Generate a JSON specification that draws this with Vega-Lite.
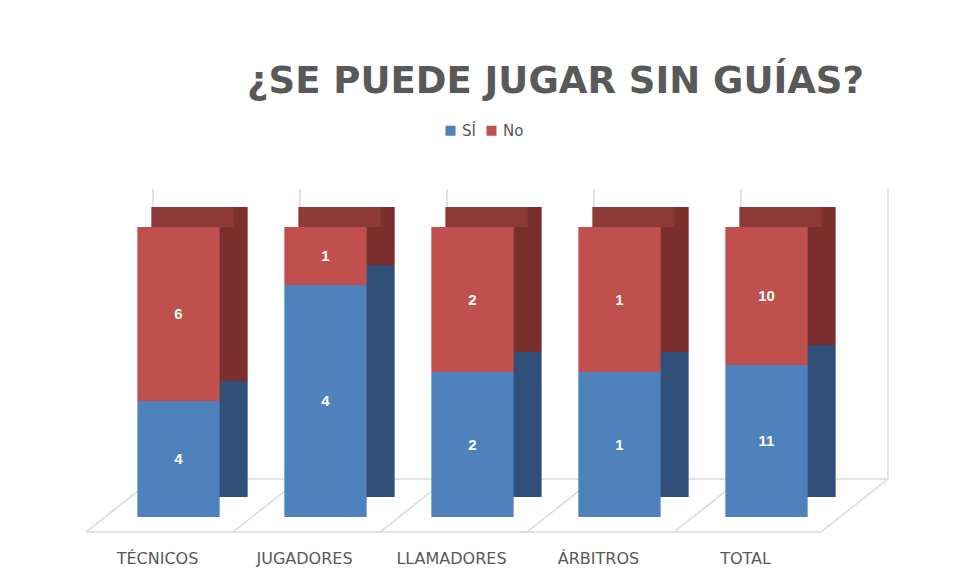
{
  "$schema": "https://vega.github.io/schema/vega-lite/v6.json",
  "autosize": {"type": "none"},
  "width": 735,
  "height": 290,
  "padding": {"left": 105, "top": 227, "right": 114, "bottom": 66},
  "background": "white",
  "config": {"view": {"stroke": null}, "font": "DejaVu Sans"},
  "title": {
    "text": "¿SE PUEDE JUGAR SIN GUÍAS?",
    "font": "DejaVu Sans",
    "fontSize": 37,
    "fontWeight": "bold",
    "color": "#595959",
    "anchor": "middle",
    "dx": 83,
    "offset": 22
  },
  "datasets": {
    "votos": [
      {"categoria": "TÉCNICOS", "serie": "SÍ", "valor": 4},
      {"categoria": "TÉCNICOS", "serie": "No", "valor": 6},
      {"categoria": "JUGADORES", "serie": "SÍ", "valor": 4},
      {"categoria": "JUGADORES", "serie": "No", "valor": 1},
      {"categoria": "LLAMADORES", "serie": "SÍ", "valor": 2},
      {"categoria": "LLAMADORES", "serie": "No", "valor": 2},
      {"categoria": "ÁRBITROS", "serie": "SÍ", "valor": 1},
      {"categoria": "ÁRBITROS", "serie": "No", "valor": 1},
      {"categoria": "TOTAL", "serie": "SÍ", "valor": 11},
      {"categoria": "TOTAL", "serie": "No", "valor": 10}
    ],
    "limites": [{"b": 0}, {"b": 1}, {"b": 2}, {"b": 3}, {"b": 4}, {"b": 5}]
  },
  "resolve": {"scale": {"x": "independent"}, "axis": {"x": "independent"}},
  "layer": [
    {
      "data": {"name": "limites"},
      "mark": {"type": "rule", "color": "#d9d9d9", "strokeWidth": 1.5, "xOffset": 48, "x2Offset": 48, "yOffset": -38, "y2Offset": -38},
      "encoding": {
        "x": {"field": "b", "type": "quantitative", "scale": {"domain": [0, 5], "nice": false, "zero": false}, "axis": null},
        "y": {"datum": 0, "type": "quantitative", "scale": {"domain": [0, 1]}, "axis": null},
        "y2": {"datum": 1}
      }
    },
    {
      "data": {"name": "limites"},
      "mark": {"type": "rule", "color": "#d9d9d9", "strokeWidth": 1.5, "xOffset": -19, "yOffset": 15, "x2Offset": 48, "y2Offset": -38},
      "encoding": {
        "x": {"field": "b", "type": "quantitative", "scale": {"domain": [0, 5], "nice": false, "zero": false}, "axis": null},
        "x2": {"field": "b"},
        "y": {"datum": 0, "type": "quantitative", "scale": {"domain": [0, 1]}, "axis": null},
        "y2": {"datum": 0}
      }
    },
    {
      "data": {"values": [{"borde": "atrás"}]},
      "mark": {"type": "rule", "color": "#d9d9d9", "strokeWidth": 1.5, "xOffset": 48, "x2Offset": 48, "yOffset": -38, "y2Offset": -38},
      "encoding": {
        "x": {"datum": 0, "type": "quantitative", "scale": {"domain": [0, 5], "nice": false, "zero": false}, "axis": null},
        "x2": {"datum": 5},
        "y": {"datum": 0, "type": "quantitative", "scale": {"domain": [0, 1]}, "axis": null}
      }
    },
    {
      "data": {"values": [{"borde": "frente"}]},
      "mark": {"type": "rule", "color": "#d9d9d9", "strokeWidth": 1.5, "xOffset": -19, "x2Offset": -19, "yOffset": 15, "y2Offset": 15},
      "encoding": {
        "x": {"datum": 0, "type": "quantitative", "scale": {"domain": [0, 5], "nice": false, "zero": false}, "axis": null},
        "x2": {"datum": 5},
        "y": {"datum": 0, "type": "quantitative", "scale": {"domain": [0, 1]}, "axis": null}
      }
    },
    {
      "data": {"name": "votos"},
      "mark": {"type": "bar", "xOffset": 28, "x2Offset": 28, "yOffset": -20, "y2Offset": -20},
      "encoding": {
        "x": {"field": "categoria", "type": "nominal", "sort": null, "scale": {"paddingInner": 0.44, "paddingOuter": 0.22}, "axis": null},
        "y": {"field": "valor", "type": "quantitative", "stack": "normalize", "scale": {"domain": [0, 1]}, "axis": null},
        "color": {"condition": {"test": "datum.serie === 'SÍ'", "value": "#30507a"}, "value": "#7a2f2d"},
        "order": {"field": "serie", "sort": "descending"}
      }
    },
    {
      "data": {"name": "votos"},
      "transform": [{"filter": "datum.serie === 'No'"}],
      "mark": {"type": "bar", "color": "#8c3937", "xOffset": 14, "x2Offset": 14, "yOffset": -20},
      "encoding": {
        "x": {"field": "categoria", "type": "nominal", "sort": null, "scale": {"paddingInner": 0.44, "paddingOuter": 0.22}, "axis": null},
        "y": {"datum": 1, "type": "quantitative", "scale": {"domain": [0, 1]}, "axis": null},
        "y2": {"datum": 1}
      }
    },
    {
      "data": {"name": "votos"},
      "mark": {"type": "bar"},
      "encoding": {
        "x": {"field": "categoria", "type": "nominal", "sort": null, "scale": {"paddingInner": 0.44, "paddingOuter": 0.22},
          "axis": {"title": null, "domain": false, "ticks": false, "tickSize": 0, "labelPadding": 33, "labelOffset": -21, "labelAngle": 0, "labelFontSize": 16, "labelColor": "#595959", "labelFont": "DejaVu Sans"}},
        "y": {"field": "valor", "type": "quantitative", "stack": "normalize", "scale": {"domain": [0, 1]}, "axis": null},
        "color": {"field": "serie", "type": "nominal", "scale": {"domain": ["SÍ", "No"], "range": ["#4f81bd", "#c0504d"]},
          "legend": {"title": null, "orient": "none", "legendX": 338, "legendY": -104, "direction": "horizontal", "symbolType": "square", "symbolSize": 100, "labelFontSize": 15, "labelColor": "#595959", "labelFont": "DejaVu Sans", "columnPadding": 8, "symbolOpacity": 1}},
        "order": {"field": "serie", "sort": "descending"}
      }
    },
    {
      "data": {"name": "votos"},
      "transform": [
        {"stack": "valor", "groupby": ["categoria"], "offset": "normalize", "sort": [{"field": "serie", "order": "descending"}], "as": ["v0", "v1"]},
        {"calculate": "(datum.v0 + datum.v1) / 2", "as": "medio"}
      ],
      "mark": {"type": "text", "color": "white", "fontWeight": "bold", "fontSize": 15, "baseline": "middle", "font": "Liberation Sans"},
      "encoding": {
        "x": {"field": "categoria", "type": "nominal", "sort": null, "scale": {"paddingInner": 0.44, "paddingOuter": 0.22}, "axis": null},
        "y": {"field": "medio", "type": "quantitative", "scale": {"domain": [0, 1]}, "axis": null},
        "text": {"field": "valor", "type": "quantitative"}
      }
    }
  ]
}
